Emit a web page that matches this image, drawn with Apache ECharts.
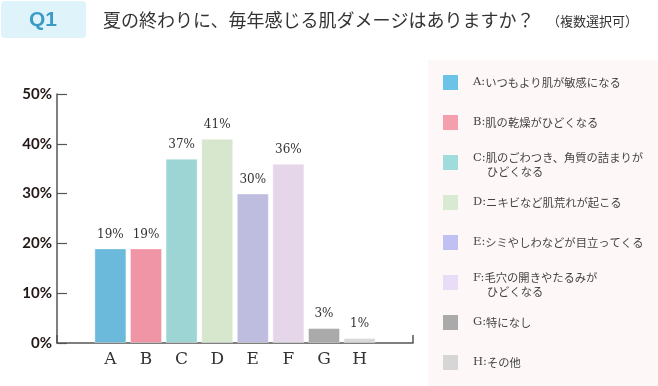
<!DOCTYPE html>
<html>
<head>
<meta charset="utf-8">
<script src="https://cdn.jsdelivr.net/npm/echarts@6/dist/echarts.min.js"></script>
<style>
html,body{margin:0;padding:0;background:#fff;}
#c{width:658px;height:386px;}
</style>
</head>
<body>
<div id="c"></div>
<script>
var categories = ['A','B','C','D','E','F','G','H'];
var values = [19, 19, 37, 41, 30, 36, 3, 1];
var barColors = ['#6bbadb','#f095a5','#9cd5d4','#d6e7ce','#bebde0','#e6d6ea','#aaaaaa','#d9d9d9'];
var legendColors = ['#6cc3e8','#f59fae','#a1dcdd','#d9ead3','#c0c0f3','#e9dcf6','#aaaaaa','#d6d6d6'];
var legendLabels = [
  'A:いつもより肌が敏感になる',
  'B:肌の乾燥がひどくなる',
  'C:肌のごわつき、角質の詰まりが\n　 ひどくなる',
  'D:ニキビなど肌荒れが起こる',
  'E:シミやしわなどが目立ってくる',
  'F:毛穴の開きやたるみが\n　 ひどくなる',
  'G:特になし',
  'H:その他'
];
var yTicks = [0, 10, 20, 30, 40, 50];
var titleText = '夏の終わりに、毎年感じる肌ダメージはありますか？';
var subText = '（複数選択可）';

var chart = echarts.init(document.getElementById('c'), null, {renderer:'canvas'});

var graphics = [
  {type:'rect', shape:{x:428, y:60, width:230, height:326}, style:{fill:'#fdf7f7'}, z:-10},
  {type:'rect', shape:{x:1, y:1, width:85, height:37, r:4}, style:{fill:'#dff3fb'}},
  {type:'text', x:43, y:20, style:{text:'Q1', fill:'#3c9bc6', font:'bold 21px "Liberation Sans", Arial, sans-serif', align:'center', verticalAlign:'middle'}},
  {type:'text', x:103, y:20, style:{text:titleText, fill:'#333', font:'18px "Noto Sans CJK JP", sans-serif', verticalAlign:'middle'}},
  {type:'text', x:547, y:21, style:{text:subText, fill:'#333', font:'13px "Noto Sans CJK JP", sans-serif', verticalAlign:'middle'}}
];
legendLabels.forEach(function(lbl, i){
  var top = 75 + i*40;
  graphics.push({type:'rect', shape:{x:443, y:top, width:15, height:15}, style:{fill:legendColors[i]}});
  var multi = lbl.indexOf('\n') >= 0;
  var k = lbl.indexOf(':');
  var lines = lbl.slice(k + 1).split('\n');
  var txt = '{p|' + lbl.slice(0, k + 1) + '}{t|' + lines[0] + '}' + (lines[1] ? '\n{t|' + lines[1] + '}' : '');
  graphics.push({type:'text', x:473, y: multi ? top - 4 : top + 7.5,
    style:{text:txt, fill:'#444', verticalAlign: multi ? 'top' : 'middle',
      rich:{
        p:{font:'11.5px "DejaVu Serif", serif', fill:'#444', lineHeight:14},
        t:{font:'11.3px "Noto Sans CJK JP", sans-serif', fill:'#444', lineHeight:14}
      }}});
});

chart.setOption({
  animation:false,
  backgroundColor:'#fff',
  grid:{left:57, right:245, top:94, bottom:43, containLabel:false},
  xAxis:{
    type:'category',
    data:categories,
    min:-1, max:8,
    axisLine:{show:true, lineStyle:{color:'#555', width:1.5}},
    axisTick:{show:true, inside:true, length:8, lineStyle:{color:'#555', width:1.5},
      interval:function(i){ return i === 8 || i === 9; }},
    axisLabel:{color:'#333', fontSize:17, fontFamily:'"DejaVu Serif", serif', margin:8,
      formatter:function(v){ return v == null ? '' : v; }},
    splitLine:{show:false}
  },
  yAxis:{
    type:'value', min:0, max:50, interval:10,
    axisLine:{show:true, lineStyle:{color:'#555', width:1.5}},
    axisTick:{show:true, inside:true, length:10, lineStyle:{color:'#555', width:1.2}},
    axisLabel:{color:'#231815', fontSize:15, fontWeight:'bold', fontFamily:'Lato, sans-serif', margin:5,
      formatter:function(v){ return yTicks.indexOf(v) >= 0 ? v + '%' : ''; }},
    splitLine:{show:false}
  },
  series:[{
    type:'bar',
    barWidth:32,
    data:values.map(function(v, i){ return {value:v, itemStyle:{color:barColors[i]}}; }),
    itemStyle:{borderColor:'rgba(255,255,255,0.35)', borderWidth:1},
    label:{show:true, position:'top', distance:8, color:'#333', fontSize:12,
      fontFamily:'"DejaVu Serif", serif', formatter:'{c}%'}
  }],
  graphic:graphics
});
</script>
</body>
</html>
